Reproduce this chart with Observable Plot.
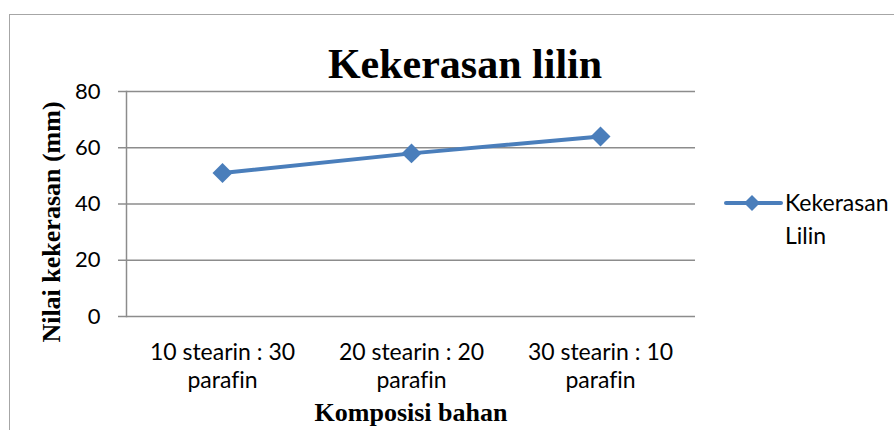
<!DOCTYPE html>
<html>
<head>
<meta charset="utf-8">
<script src="https://cdn.jsdelivr.net/npm/d3@7"></script>
<script src="https://cdn.jsdelivr.net/npm/@observablehq/plot@0.6"></script>
<style>
  html, body { margin: 0; padding: 0; background: #fff; overflow: hidden; }
  #wrap { position: relative; width: 894px; height: 430px; font-variant-ligatures: none; }
  #wrap svg text { font-variant-ligatures: none; }
  #frame { position: absolute; left: 9px; top: 14px; width: 900px; height: 430px; border: 1.5px solid #a6a6a6; box-sizing: border-box; }
  .serif { font-family: "Liberation Serif", "Times New Roman", serif; font-weight: bold; color: #000; position: absolute; white-space: nowrap; }
  #title { left: 465px; top: 40px; transform: translateX(-50%); font-size: 42px; }
  #ylab { left: 52px; top: 222px; transform: translate(-50%, -50%) rotate(-90deg); font-size: 26px; }
  #xlab { left: 411px; top: 398px; transform: translateX(-50%); font-size: 26px; }
  #legend { position: absolute; left: 724px; top: 186px; font-family: Lato, "Noto Sans", sans-serif; font-size: 23px; color: #000; }
  #legend svg { position: absolute; left: 0; top: 7px; }
  #legend .t { position: absolute; left: 61px; top: 0; line-height: 33px; white-space: nowrap; }
  #chart { position: absolute; left: 0; top: 0; }
</style>
</head>
<body>
<div id="wrap">
  <div id="frame"></div>
  <div id="chart"></div>
  <div id="title" class="serif">Kekerasan lilin</div>
  <div id="ylab" class="serif">Nilai kekerasan (mm)</div>
  <div id="xlab" class="serif">Komposisi bahan</div>
  <div id="legend">
    <svg width="60" height="20"><line x1="2" y1="10" x2="57" y2="10" stroke="#4A7EBB" stroke-width="4" stroke-linecap="round"/><path d="M28,2 L36,10 L28,18 L20,10 Z" fill="#4A7EBB"/></svg>
    <div class="t">Kekerasan<br>Lilin</div>
  </div>
</div>
<script>
const categories = ["10 stearin : 30\nparafin", "20 stearin : 20\nparafin", "30 stearin : 10\nparafin"];
const values = [51, 58, 64];
const yTicks = [0, 20, 40, 60, 80];
const seriesName = "Kekerasan Lilin";

const data = categories.map((c, i) => ({ cat: c, v: values[i], s: seriesName }));
const blue = "#4A7EBB";
const grid = "#8c8c8c";

const chart = Plot.plot({
  width: 894,
  height: 430,
  marginLeft: 126,
  marginRight: 199,
  marginTop: 91,
  marginBottom: 114,
  style: { fontFamily: "Lato, 'Noto Sans', sans-serif", fontSize: "23px", color: "#000", background: "transparent", overflow: "visible" },
  x: { type: "point", domain: categories, padding: 0.5 },
  y: { domain: [0, 80] },
  marks: [
    Plot.ruleY(yTicks, { y: d => d, stroke: grid, strokeWidth: 1.5, strokeOpacity: 1 }),
    Plot.axisY({ ticks: yTicks, tickSize: 8, tickPadding: 18, stroke: grid, strokeWidth: 1.5, label: null, fill: "#000", fontSize: 22 }),
    Plot.axisX({ tickSize: 0, tickPadding: 24, label: null, lineHeight: 1.22, fill: "#000", fontSize: 23 }),
    Plot.frame({ anchor: "left", stroke: grid, strokeWidth: 1.5 }),
    Plot.line(data, { x: "cat", y: "v", stroke: blue, strokeWidth: 4, strokeLinecap: "round" }),
    Plot.dot(data, { x: "cat", y: "v", symbol: "diamond2", r: 9, fill: blue, stroke: "none" })
  ]
});
document.getElementById("chart").appendChild(chart);
</script>
</body>
</html>
